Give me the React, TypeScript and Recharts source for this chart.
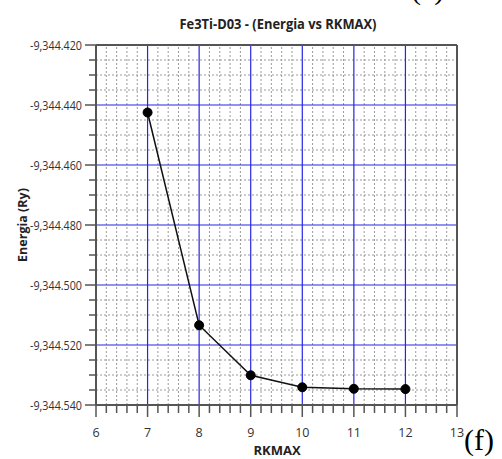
import React from "react";
import { LineChart, Line, XAxis, YAxis, ReferenceLine } from "recharts";

const rkmax = [7, 8, 9, 10, 11, 12];
const energia = [-9344.4425, -9344.5134, -9344.5301, -9344.5341, -9344.5346, -9344.5347];

const xMajorTicks = [6, 7, 8, 9, 10, 11, 12, 13];
const yMajorTicks = [-9344.54, -9344.52, -9344.5, -9344.48, -9344.46, -9344.44, -9344.42];
const xSubdivisions = 5;
const ySubdivisions = 4;

const data = rkmax.map((x, i) => ({ rkmax: x, energia: energia[i] }));

// majors plus the minor steps between them
const subdivide = (majors: number[], n: number, digits: number) => {
  const out: number[] = [];
  majors.forEach((m, i) => {
    out.push(m);
    if (i < majors.length - 1) {
      const step = (majors[i + 1] - m) / n;
      for (let k = 1; k < n; k++) out.push(Number((m + k * step).toFixed(digits)));
    }
  });
  return out;
};

const xTicks = subdivide(xMajorTicks, xSubdivisions, 1);
const yTicks = subdivide(yMajorTicks, ySubdivisions, 3);
const xMinor = xTicks.filter((v) => !xMajorTicks.includes(v));
const yMinor = yTicks.filter((v) => !yMajorTicks.includes(v));
const xInner = xMajorTicks.slice(1, -1);
const yInner = yMajorTicks.slice(1, -1);

const AXIS = "#555";
const BLUE = "#2626e6";
const FONT = "'Open Sans', 'Noto Sans', sans-serif";

const fmtY = (v: number) =>
  v.toLocaleString("en-US", { minimumFractionDigits: 3, maximumFractionDigits: 3 });

const XTick = (props: any) => {
  const { x, y, payload } = props;
  const major = xMajorTicks.includes(payload.value);
  return (
    <g>
      <line x1={x} x2={x} y1={y} y2={y + (major ? 12 : 8)} stroke={AXIS} strokeWidth={1.5} />
      {major && (
        <text x={x} y={y + 32} textAnchor="middle" fill="#333" fontSize={12.5} fontFamily={FONT}>
          {payload.value}
        </text>
      )}
    </g>
  );
};

const YTick = (props: any) => {
  const { x, y, payload } = props;
  const major = yMajorTicks.includes(payload.value);
  return (
    <g>
      <line x1={x - (major ? 11 : 7)} x2={x} y1={y} y2={y} stroke={AXIS} strokeWidth={1.5} />
      {major && (
        <text
          x={x - 66}
          y={y + 4.5}
          fill="#333"
          fontSize={12.5}
          fontFamily={FONT}
          textLength={52}
          lengthAdjust="spacingAndGlyphs"
        >
          {fmtY(payload.value)}
        </text>
      )}
    </g>
  );
};

export default function App() {
  return (
    <div style={{ position: "absolute", left: 0, top: 0, width: 502, height: 459, background: "#fff" }}>
      <LineChart width={502} height={459} data={data} margin={{ top: 45, right: 45, bottom: 0, left: 0 }}>
        {xMinor.map((v) => (
          <ReferenceLine key={"xm" + v} x={v} stroke="#9a9a9a" strokeDasharray="2 2" strokeWidth={1} />
        ))}
        {yMinor.map((v) => (
          <ReferenceLine key={"ym" + v} y={v} stroke="#9a9a9a" strokeDasharray="2 2" strokeWidth={1} />
        ))}
        {xInner.map((v) => (
          <ReferenceLine key={"xM" + v} x={v} stroke={BLUE} strokeWidth={1.2} />
        ))}
        {yInner.map((v) => (
          <ReferenceLine key={"yM" + v} y={v} stroke={BLUE} strokeWidth={1.2} />
        ))}
        <ReferenceLine y={yMajorTicks[yMajorTicks.length - 1]} stroke={AXIS} strokeWidth={2} />
        <ReferenceLine x={xMajorTicks[xMajorTicks.length - 1]} stroke={AXIS} strokeWidth={2} />
        <XAxis
          dataKey="rkmax"
          type="number"
          domain={[xMajorTicks[0], xMajorTicks[xMajorTicks.length - 1]]}
          ticks={xTicks}
          interval={0}
          allowDataOverflow
          height={54}
          tickSize={0}
          tickMargin={0}
          tickLine={false}
          axisLine={{ stroke: AXIS, strokeWidth: 2 }}
          tick={<XTick />}
        />
        <YAxis
          dataKey="energia"
          type="number"
          domain={[yMajorTicks[0], yMajorTicks[yMajorTicks.length - 1]]}
          ticks={yTicks}
          interval={0}
          allowDataOverflow
          width={96}
          tickSize={0}
          tickMargin={0}
          tickLine={false}
          axisLine={{ stroke: AXIS, strokeWidth: 2 }}
          tick={<YTick />}
        />
        <Line
          type="linear"
          dataKey="energia"
          stroke="#111"
          strokeWidth={1.5}
          dot={{ r: 4.5, fill: "#000", stroke: "#000", strokeWidth: 1 }}
          activeDot={false}
          isAnimationActive={false}
        />
        <text
          x={278}
          y={29}
          textAnchor="middle"
          fontSize={15}
          fontWeight={700}
          fontFamily={FONT}
          fill="#222"
          textLength={197}
          lengthAdjust="spacingAndGlyphs"
        >
          Fe3Ti-D03 - (Energia vs RKMAX)
        </text>
        <text x={277} y={455} textAnchor="middle" fontSize={13} fontWeight={700} fontFamily={FONT} fill="#222">
          RKMAX
        </text>
        <text
          x={27}
          y={225}
          transform="rotate(-90 27 225)"
          textAnchor="middle"
          fontSize={12.5}
          fontWeight={700}
          fontFamily={FONT}
          fill="#222"
        >
          Energia (Ry)
        </text>
        <text x={411} y={-1} fontSize={30} fontFamily="'Liberation Serif', serif" fill="#000">
          (e)
        </text>
        <text x={464} y={450} fontSize={30} fontFamily="'Liberation Serif', serif" fill="#000">
          (f)
        </text>
      </LineChart>
    </div>
  );
}
